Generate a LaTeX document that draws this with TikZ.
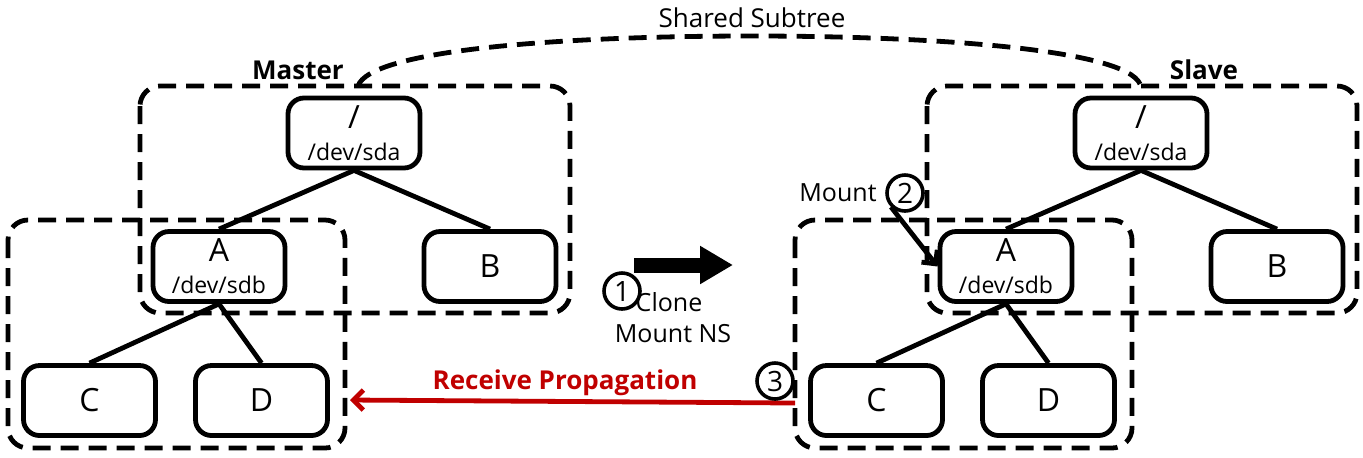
\documentclass[tikz,border=0pt]{standalone}
\usepackage{fontspec}
\setmainfont{Open Sans}
\usepackage{tikz}
\usetikzlibrary{arrows.meta}
\usetikzlibrary{calc}
\definecolor{propred}{RGB}{192,0,0}
\newcommand{\bigtxt}{\fontsize{16}{18}\selectfont}
\newcommand{\devtxt}{\fontsize{11.5}{13}\selectfont}
\tikzstyle{fsnode} = [draw, rounded corners=8pt, line width=2.4pt,
    minimum width=66pt, minimum height=35pt, inner sep=0pt,
    align=center, font=\devtxt]
\tikzstyle{dashline} = [line width=2.4pt, dash pattern=on 9pt off 5pt]
\tikzstyle{nsbox} = [dashline, rounded corners=10pt]
\tikzstyle{edge} = [line width=2.4pt]
\tikzstyle{stepnum} = [draw, circle, line width=1.8pt, minimum size=18pt,
    inner sep=0pt, font=\fontsize{14}{14}\selectfont]
\tikzstyle{lbl} = [inner sep=0pt, font=\fontsize{12.5}{15}\selectfont]
\tikzstyle{title} = [inner sep=0pt, font=\fontsize{13}{15}\selectfont\bfseries]
\tikzset{>={Straight Barb[length=5pt,width=10pt]}}

\begin{document}
\begin{tikzpicture}[x=0.5pt, y=-0.5pt]
\useasboundingbox (0,0) rectangle (1363,457);
%master (left) and slave (right) mount trees
\foreach \s/\dx in {m/0, s/787}
{\begin{scope}[xshift=\dx*0.5pt]
    \node[fsnode] (root\s) at (354,133) {{\bigtxt /}\\[3pt]/dev/sda};
    \node[fsnode] (a\s) at (219,266.5) {{\bigtxt A}\\[3pt]/dev/sdb};
    \node[fsnode] (b\s) at (490,266.5) {\bigtxt B};
    \node[fsnode] (c\s) at (89.5,400.5) {\bigtxt C};
    \node[fsnode] (d\s) at (261.5,400.5) {\bigtxt D};
    \foreach \from/\to in {root/a, root/b, a/c, a/d}
    {\draw[edge] (\from\s.south) -- (\to\s.north);}
    %mount namespaces
    \draw[nsbox] (140,86) rectangle (570,313);
    \draw[nsbox] (8,220) rectangle (345,448);
\end{scope}}
\node[title] (master) at (298,70) {Master};
\node[title] (slave) at (1204,70) {Slave};
%shared subtree
\node[lbl, font=\fontsize{13}{15}\selectfont] (shared) at (752,18) {Shared Subtree};
\coordinate (arcL) at (358,86);
\coordinate (arcR) at (1140,84);
\draw[dashline] (arcL) .. controls (370,50) and (560,36) .. (752,36)
    .. controls (940,36) and (1125,50) .. (arcR);
%step 1: clone
\coordinate (cloneL) at (634,265);
\coordinate (cloneR) at (733,265);
\draw[line width=7.5pt, -{Triangle[length=16.5pt,width=18pt]}] (cloneL) -- (cloneR);
\node[stepnum, fill=white] (one) at (622,291) {1};
\node[lbl] (clone) at (669,302) {Clone};
\node[lbl] (mountns) at (673,334) {Mount NS};
%step 2: mount
\node[lbl] (mount) at (838,193) {Mount};
\node[stepnum] (two) at (905,193) {2};
\draw[edge,->] (two.south west) -- (as.west);
%step 3: propagation
\coordinate (recvR) at (795,403);
\coordinate (recvL) at (350,400);
\draw[line width=2.4pt, propred, ->] (recvR) -- (recvL);
\node[stepnum] (three) at (775,381) {3};
\node[title, text=propred] (recv) at (565,383) {Receive Propagation};
\end{tikzpicture}
\end{document}
